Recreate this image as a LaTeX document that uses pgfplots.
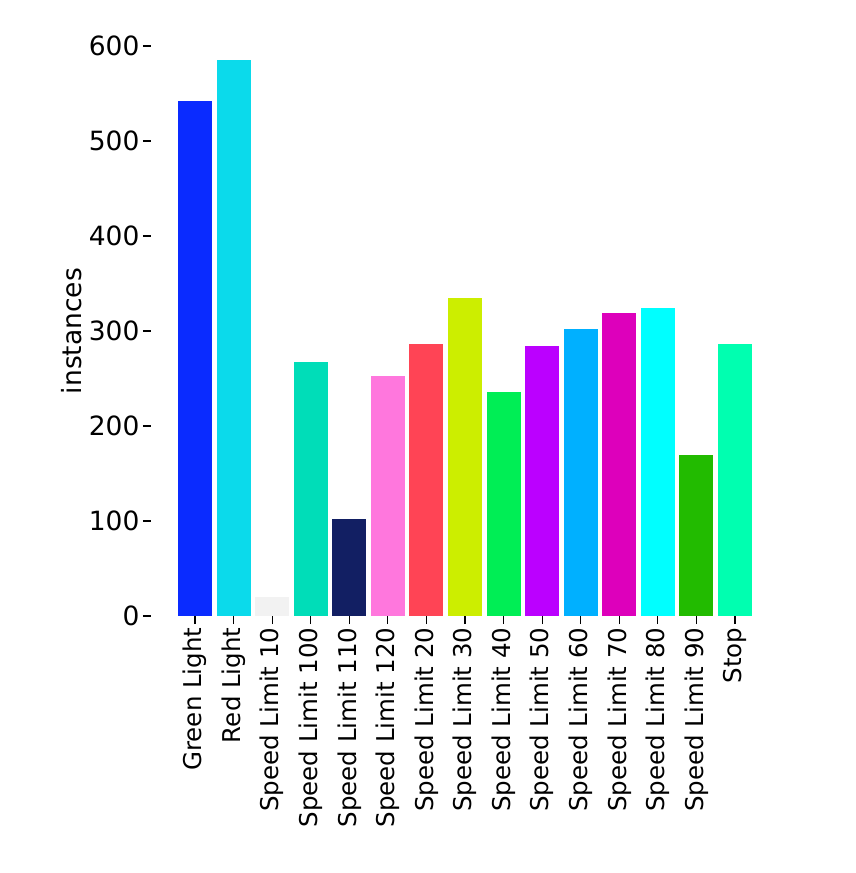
\documentclass[border=0pt]{standalone}
\usepackage{pgfplots}
\pgfplotsset{compat=1.18}
\usepackage{fontspec}
\setmainfont{DejaVu Sans}
\definecolor{c1}{HTML}{0A2BFF}
\definecolor{c2}{HTML}{0BDAEB}
\definecolor{c3}{HTML}{F2F2F2}
\definecolor{c4}{HTML}{00DDB8}
\definecolor{c5}{HTML}{121F63}
\definecolor{c6}{HTML}{FF77DD}
\definecolor{c7}{HTML}{FF4455}
\definecolor{c8}{HTML}{CCEE00}
\definecolor{c9}{HTML}{00EE55}
\definecolor{c10}{HTML}{BB00FF}
\definecolor{c11}{HTML}{00B0FF}
\definecolor{c12}{HTML}{DD00BB}
\definecolor{c13}{HTML}{00FFFF}
\definecolor{c14}{HTML}{22BB00}
\definecolor{c15}{HTML}{00FFB0}
\begin{document}
\begin{tikzpicture}
\begin{axis}[
  scale only axis, width=606pt, height=570pt,
  xmin=-1.14, xmax=14.57, ymin=0, ymax=600,
  axis line style={draw=none},
  ybar, bar width=34pt, bar shift=0pt,
  xtick={0,...,14},
  xticklabels={Green Light,Red Light,Speed Limit 10,Speed Limit 100,Speed Limit 110,Speed Limit 120,Speed Limit 20,Speed Limit 30,Speed Limit 40,Speed Limit 50,Speed Limit 60,Speed Limit 70,Speed Limit 80,Speed Limit 90,Stop},
  x tick label style={rotate=90, anchor=east, font=\fontsize{24.5}{28}\selectfont},
  ytick={0,100,...,600},
  y tick label style={font=\fontsize{26.5}{30}\selectfont},
  /pgf/number format/assume math mode=true,
  tick align=outside, major tick length=8pt, tick style={black, line width=1.2pt},
  xtick pos=bottom, ytick pos=left,
  ylabel={instances},
  ylabel style={font=\fontsize{26.5}{30}\selectfont},
  clip=false,
]
\addplot[fill=c1, draw=none] coordinates {(0,542)};
\addplot[fill=c2, draw=none] coordinates {(1,585)};
\addplot[fill=c3, draw=none] coordinates {(2,20)};
\addplot[fill=c4, draw=none] coordinates {(3,267)};
\addplot[fill=c5, draw=none] coordinates {(4,102)};
\addplot[fill=c6, draw=none] coordinates {(5,253)};
\addplot[fill=c7, draw=none] coordinates {(6,286)};
\addplot[fill=c8, draw=none] coordinates {(7,335)};
\addplot[fill=c9, draw=none] coordinates {(8,236)};
\addplot[fill=c10, draw=none] coordinates {(9,284)};
\addplot[fill=c11, draw=none] coordinates {(10,302)};
\addplot[fill=c12, draw=none] coordinates {(11,319)};
\addplot[fill=c13, draw=none] coordinates {(12,324)};
\addplot[fill=c14, draw=none] coordinates {(13,169)};
\addplot[fill=c15, draw=none] coordinates {(14,286)};
\end{axis}
\path[use as bounding box] (-151pt,-257pt) rectangle (704pt,616pt);
\end{tikzpicture}
\end{document}
